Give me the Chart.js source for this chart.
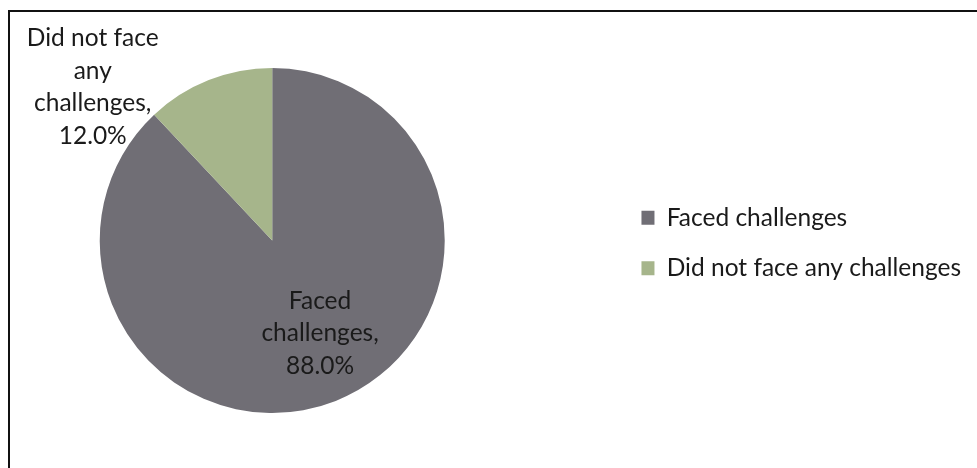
<!DOCTYPE html>
<html>
<head>
<meta charset="utf-8">
<title>Challenges faced</title>
<script src="https://cdn.jsdelivr.net/npm/chart.js@4/dist/chart.umd.min.js"></script>
<style>
  html, body { margin: 0; padding: 0; background: #fff; }
  body { width: 977px; height: 468px; position: relative; overflow: hidden; }
  #frame {
    position: absolute; left: 8px; top: 10px; width: 1200px; height: 700px;
    border-left: 2px solid #111; border-top: 2px solid #111;
  }
  /* canvas runs a little past the left edge so the pie sits left of centre */
  #chart { position: absolute; left: -71px; top: 0; }
</style>
</head>
<body>
<div id="frame"></div>
<canvas id="chart" width="1048" height="468"></canvas>
<script>
// Survey answers: share of respondents (%)
const categories = ['Faced challenges', 'Did not face any challenges'];
const shares = [88.0, 12.0];
const sliceColors = ['#706e75', '#a6b58b'];

const FONT_FAMILY = 'Lato, "Liberation Sans", sans-serif';
const FONT_SIZE = 24.5;
const TEXT_COLOR = '#1a1a1a';

// Where each slice's label sits: fraction of the radius along the slice's
// middle angle, then a pixel nudge.
const labelPlacement = [
  { k: 0.58, dx: 11, dy: 0 },
  { k: 1.0, dx: -116, dy: 7 }
];
const LABEL_WRAP = 145;
const LABEL_LINE = 32.5;

function wrapWords(ctx, text, maxWidth) {
  const words = text.split(' ');
  const lines = [];
  let line = '';
  words.forEach(w => {
    const test = line ? line + ' ' + w : w;
    if (line && ctx.measureText(test).width > maxWidth) {
      lines.push(line);
      line = w;
    } else {
      line = test;
    }
  });
  if (line) lines.push(line);
  return lines;
}

const sliceLabels = {
  id: 'sliceLabels',
  afterDatasetsDraw(chart) {
    const ctx = chart.ctx;
    const meta = chart.getDatasetMeta(0);
    const values = chart.data.datasets[0].data;
    const total = values.reduce((a, b) => a + b, 0);
    ctx.save();
    ctx.font = `${FONT_SIZE}px ${FONT_FAMILY}`;
    ctx.fillStyle = TEXT_COLOR;
    ctx.textAlign = 'center';
    ctx.textBaseline = 'middle';
    meta.data.forEach((arc, i) => {
      const { x, y, startAngle, endAngle, outerRadius } =
        arc.getProps(['x', 'y', 'startAngle', 'endAngle', 'outerRadius'], true);
      const mid = (startAngle + endAngle) / 2;
      const p = labelPlacement[i];
      const cx = x + Math.cos(mid) * outerRadius * p.k + p.dx;
      const cy = y + Math.sin(mid) * outerRadius * p.k + p.dy;
      const pct = (values[i] / total * 100).toFixed(1);
      const lines = wrapWords(ctx, `${chart.data.labels[i]}, ${pct}%`, LABEL_WRAP);
      const top = cy - (lines.length - 1) * LABEL_LINE / 2;
      lines.forEach((ln, j) => ctx.fillText(ln, cx, top + j * LABEL_LINE));
    });
    ctx.restore();
  }
};

new Chart(document.getElementById('chart'), {
  type: 'pie',
  data: {
    labels: categories,
    datasets: [{
      data: shares,
      backgroundColor: sliceColors,
      borderWidth: 0
    }]
  },
  options: {
    responsive: false,
    animation: false,
    events: [],
    layout: { padding: { left: 0, right: 6, top: 68, bottom: 55 } },
    plugins: {
      tooltip: { enabled: false },
      legend: {
        position: 'right',
        // blank spacer title: nudges the legend rows down a little
        title: { display: true, text: ' ', font: { size: 1 }, padding: 2 },
        labels: {
          boxWidth: 13,
          boxHeight: 14,
          padding: 26,
          color: TEXT_COLOR,
          font: { family: FONT_FAMILY, size: FONT_SIZE }
        }
      }
    }
  },
  plugins: [sliceLabels]
});
</script>
</body>
</html>
